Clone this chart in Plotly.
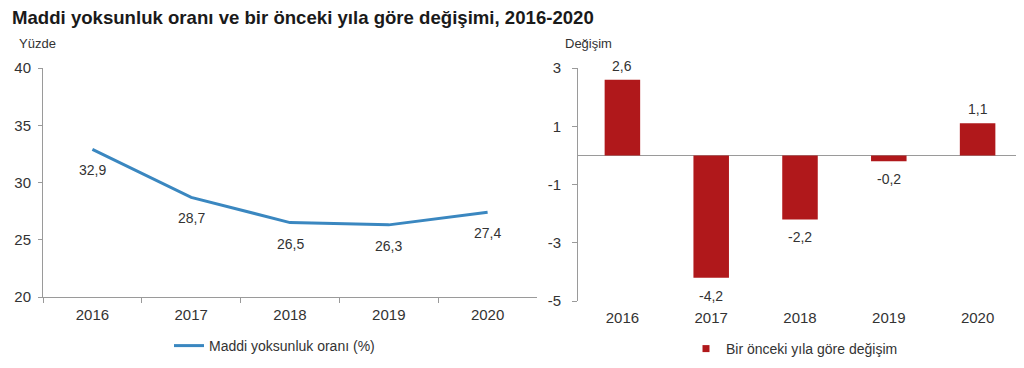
import plotly.graph_objects as go

years = ["2016", "2017", "2018", "2019", "2020"]
rate = [32.9, 28.7, 26.5, 26.3, 27.4]
change = [2.6, -4.2, -2.2, -0.2, 1.1]
rate_labels = ["32,9", "28,7", "26,5", "26,3", "27,4"]
change_labels = ["2,6", "-4,2", "-2,2", "-0,2", "1,1"]
left_ticks = [20, 25, 30, 35, 40]
right_ticks = [-5, -3, -1, 1, 3]
right_tick_text = ["-5", "-3", "-1", "1", "3"]
left_range = [20, 40]
right_range = [-5, 3]

title_text = "Maddi yoksunluk oranı ve bir önceki yıla göre değişimi, 2016-2020"
left_unit = "Yüzde"
right_unit = "Değişim"
line_name = "Maddi yoksunluk oranı (%)"
bar_name = "Bir önceki yıla göre değişim"

FONT = "Liberation Sans, Arial, sans-serif"
TXT = "#333333"
AX = "#9a9a9a"
BLUE = "#3a87c0"
RED = "#b0181b"

# page body has an 8px margin; map screen pixels to figure paper coords
OFF = 8
W, H = 1024 - OFF, 368 - OFF
def fx(px):
    return (px - OFF) / W
def fy(py):
    return 1 - (py - OFF) / H

fig = go.Figure()

fig.add_trace(go.Scatter(
    x=years, y=rate, mode="lines", name=line_name,
    line=dict(color=BLUE, width=3),
    xaxis="x", yaxis="y", legend="legend",
))

fig.add_trace(go.Bar(
    x=years, y=change, name=bar_name, showlegend=False,
    marker=dict(color=RED, line=dict(width=0)),
    xaxis="x2", yaxis="y2",
))
# legend entry with a small square swatch like the reference
fig.add_trace(go.Scatter(
    x=[None], y=[None], mode="markers", name=bar_name,
    marker=dict(color=RED, symbol="square", size=7),
    xaxis="x2", yaxis="y2", legend="legend2",
))

annotations = []
for i, (v, lab) in enumerate(zip(rate, rate_labels)):
    annotations.append(dict(
        x=i, y=v, xref="x", yref="y", text=lab, showarrow=False,
        yshift=-21, font=dict(size=14, color=TXT, family=FONT),
    ))
for i, (v, lab) in enumerate(zip(change, change_labels)):
    annotations.append(dict(
        x=i, y=v, xref="x2", yref="y2", text=lab, showarrow=False,
        yanchor="middle", yshift=14 if v >= 0 else -18,
        font=dict(size=14, color=TXT, family=FONT),
    ))

annotations.append(dict(
    x=fx(10), y=fy(17), xref="paper", yref="paper", xanchor="left", yanchor="middle",
    text="<b>" + title_text + "</b>", showarrow=False,
    font=dict(size=18.6, color="#1a1a1a", family=FONT),
))
annotations.append(dict(
    x=fx(17), y=fy(44), xref="paper", yref="paper", xanchor="left", yanchor="middle",
    text=left_unit, showarrow=False, font=dict(size=13, color=TXT, family=FONT),
))
annotations.append(dict(
    x=fx(563), y=fy(44), xref="paper", yref="paper", xanchor="left", yanchor="middle",
    text=right_unit, showarrow=False, font=dict(size=13, color=TXT, family=FONT),
))

y2_dom = [fy(301), fy(68)]
zero_pos = y2_dom[0] + (0 - right_range[0]) / (right_range[1] - right_range[0]) * (y2_dom[1] - y2_dom[0])
boundaries = [i + 0.5 for i in range(len(years))]

fig.update_layout(
    width=W, height=H,
    margin=dict(l=0, r=0, t=0, b=0, autoexpand=False),
    paper_bgcolor="white", plot_bgcolor="white",
    font=dict(family=FONT, size=14, color=TXT),
    bargap=0.6,
    showlegend=True,
    annotations=annotations,
    xaxis=dict(
        type="category", automargin=False, range=[-0.5, len(years) - 0.5],
        domain=[fx(43), fx(537)], anchor="y",
        showline=True, linecolor=AX, linewidth=1,
        ticks="outside", tickson="boundaries", ticklen=5, tickcolor=AX,
        ticklabelstandoff=4,
        showgrid=False, zeroline=False,
        tickfont=dict(size=15, color=TXT, family=FONT),
    ),
    yaxis=dict(
        automargin=False,
        domain=[fy(297), fy(68)], anchor="x",
        range=left_range, tickvals=left_ticks,
        showline=True, linecolor=AX, linewidth=1,
        ticks="outside", ticklen=4, tickcolor=AX, ticklabelstandoff=4,
        showgrid=False, zeroline=False,
        tickfont=dict(size=15, color=TXT, family=FONT),
    ),
    xaxis2=dict(
        type="category", automargin=False, range=[-0.5, len(years) - 0.5],
        domain=[fx(578), fx(1022)], anchor="y2",
        showline=False, ticks="", showgrid=False, zeroline=False,
        ticklabelstandoff=6,
        tickfont=dict(size=15, color=TXT, family=FONT),
    ),
    xaxis3=dict(
        type="linear", automargin=False, range=[-0.5, len(years) - 0.5],
        domain=[fx(578), fx(1022)], anchor="free", position=zero_pos,
        overlaying="x2", side="bottom",
        showline=False, showticklabels=False,
        ticks="outside", tickvals=boundaries, ticklen=4, tickcolor=AX,
        showgrid=False, zeroline=False,
    ),
    yaxis2=dict(
        automargin=False,
        domain=y2_dom, anchor="x2",
        range=right_range, tickvals=right_ticks, ticktext=right_tick_text,
        showline=True, linecolor=AX, linewidth=1,
        ticks="outside", ticklen=5, tickcolor=AX, ticklabelstandoff=8,
        showgrid=False, zeroline=True, zerolinecolor=AX, zerolinewidth=1,
        tickfont=dict(size=15, color=TXT, family=FONT),
    ),
    legend=dict(
        x=fx(169), y=fy(346), xanchor="left", yanchor="middle",
        orientation="h", bgcolor="rgba(0,0,0,0)",
        font=dict(size=14, color=TXT, family=FONT),
        itemwidth=30,
    ),
    legend2=dict(
        x=fx(686), y=fy(349), xanchor="left", yanchor="middle",
        orientation="h", bgcolor="rgba(0,0,0,0)",
        font=dict(size=14, color=TXT, family=FONT),
        itemwidth=30,
    ),
)

fig.write_html("out.html")
